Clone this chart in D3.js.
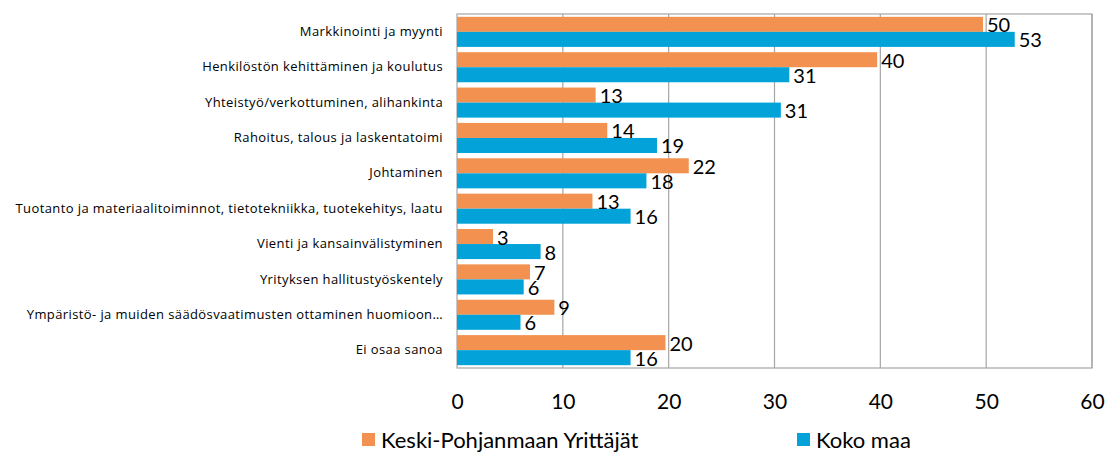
<!DOCTYPE html>
<html><head><meta charset="utf-8">
<script src="https://cdn.jsdelivr.net/npm/d3@7"></script>
<style>body{margin:0;background:#fff}svg{display:block}</style>
</head><body>
<svg id="c" width="1120" height="452"></svg>
<script>
const categories = [
  "Markkinointi ja myynti",
  "Henkilöstön kehittäminen ja koulutus",
  "Yhteistyö/verkottuminen, alihankinta",
  "Rahoitus, talous ja laskentatoimi",
  "Johtaminen",
  "Tuotanto ja materiaalitoiminnot, tietotekniikka, tuotekehitys, laatu",
  "Vienti ja kansainvälistyminen",
  "Yrityksen hallitustyöskentely",
  "Ympäristö- ja muiden säädösvaatimusten ottaminen huomioon…",
  "Ei osaa sanoa"
];
const seriesNames = ["Keski-Pohjanmaan Yrittäjät", "Koko maa"];
const keskiPohjanmaa = [49.7, 39.7, 13.1, 14.2, 21.9, 12.8, 3.4, 6.9, 9.2, 19.7];
const kokoMaa = [52.7, 31.4, 30.6, 18.9, 17.9, 16.4, 7.9, 6.3, 6.0, 16.4];
const xTicks = [0, 10, 20, 30, 40, 50, 60];

const colors = ["#F39250", "#03A3DA"];
const font = "Lato, 'Open Sans', sans-serif";
const labelFont = "'Open Sans', sans-serif";

const svg = d3.select("#c");
const L = 457, R = 1092, T = 14, B = 368;

const x = d3.scaleLinear().domain([0, 60]).range([L, R]);
const y = d3.scaleBand().domain(categories).range([T, B]).paddingInner(0.15).paddingOuter(0.08);
const sub = d3.scaleBand().domain([0, 1]).range([0, y.bandwidth()]);

// gridlines
svg.append("g").selectAll("line").data(xTicks.slice(1)).join("line")
  .attr("x1", d => x(d)).attr("x2", d => x(d)).attr("y1", T).attr("y2", B)
  .attr("stroke", "#a6a6a6").attr("stroke-width", 1.2);
// plot border
svg.append("rect").attr("x", L).attr("y", T).attr("width", R - L).attr("height", B - T)
  .attr("fill", "none").attr("stroke", "#a6a6a6").attr("stroke-width", 1.2);

const data = categories.map((c, i) => ({c, vals: [keskiPohjanmaa[i], kokoMaa[i]]}));
const groups = svg.append("g").selectAll("g").data(data).join("g")
  .attr("transform", d => `translate(0,${y(d.c)})`);

groups.selectAll("rect").data(d => d.vals).join("rect")
  .attr("x", x(0)).attr("y", (d, i) => sub(i))
  .attr("width", d => x(d) - x(0)).attr("height", sub.bandwidth())
  .attr("fill", (d, i) => colors[i]);

groups.selectAll("text.v").data(d => d.vals).join("text").attr("class", "v")
  .attr("x", d => x(d) + 4).attr("y", (d, i) => sub(i) + sub.bandwidth() / 2 + 8)
  .attr("font-family", font).attr("font-size", 20).attr("fill", "#000")
  .text(d => d3.format(".0f")(d));

// y axis labels
const yAxis = d3.axisLeft(y).tickSize(0).tickPadding(14);
const ya = svg.append("g").attr("transform", `translate(${L},0)`).call(yAxis);
ya.select(".domain").remove();
ya.selectAll("text").attr("font-family", labelFont).attr("font-size", 13)
  .attr("letter-spacing", "0.4px").attr("fill", "#000");

// x axis
const xAxis = d3.axisBottom(x).tickValues(xTicks).tickSize(0).tickPadding(26);
const xa = svg.append("g").attr("transform", `translate(0,${B})`).call(xAxis);
xa.select(".domain").remove();
xa.selectAll("text").attr("font-family", font).attr("font-size", 21).attr("fill", "#000");

// legend
const legX = [362, 797];
const leg = svg.append("g").selectAll("g").data(seriesNames).join("g")
  .attr("transform", (d, i) => `translate(${legX[i]},433)`);
leg.append("rect").attr("width", 13).attr("height", 13).attr("fill", (d, i) => colors[i]);
leg.append("text").attr("x", 19).attr("y", 15).attr("font-family", font).attr("font-size", 22)
  .attr("fill", "#000").text(d => d);
</script>
</body></html>
